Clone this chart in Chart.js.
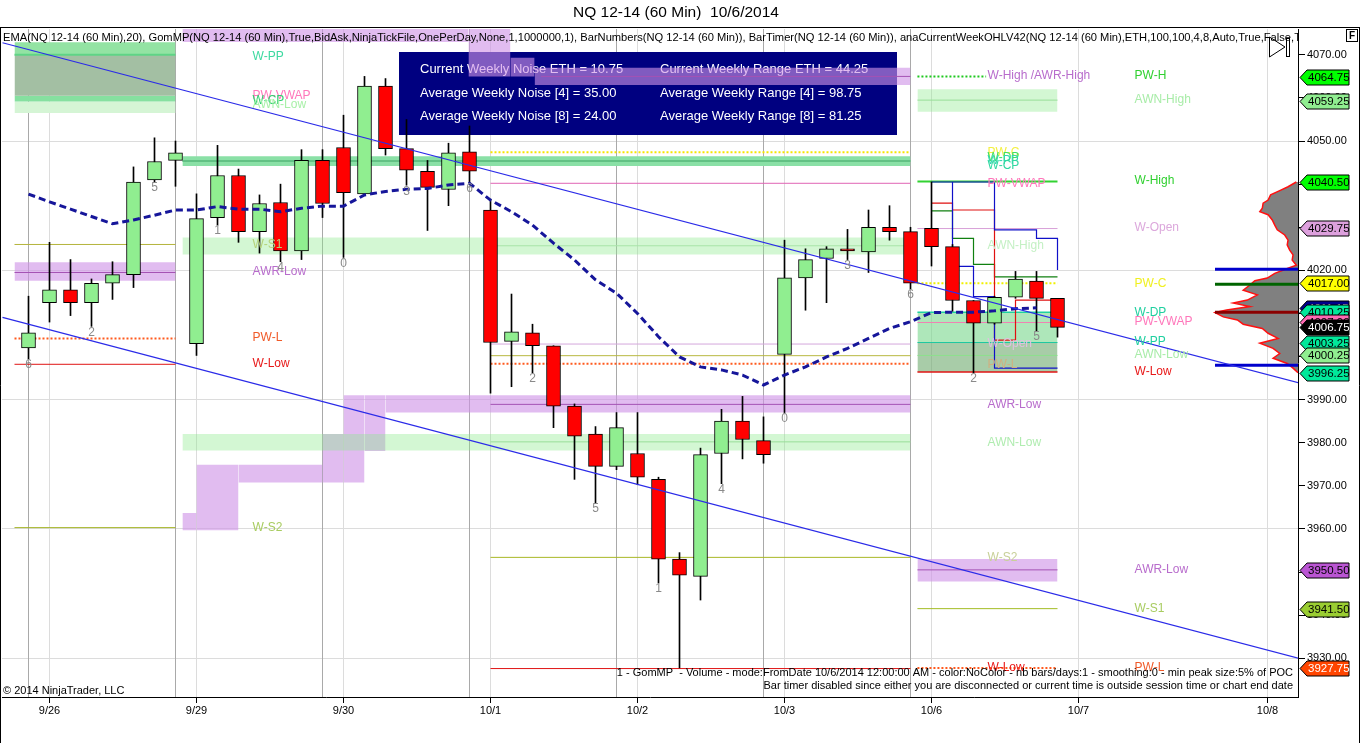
<!DOCTYPE html>
<html>
<head>
<meta charset="utf-8">
<title>NQ 12-14 (60 Min) 10/6/2014</title>
<script src="https://cdn.jsdelivr.net/npm/chart.js@4.4.1/dist/chart.umd.min.js"></script>
<style>
html,body{margin:0;padding:0;background:#fff;overflow:hidden;}
#box{position:relative;width:1360px;height:743px;}
</style>
</head>
<body>
<div id="box"><canvas id="c"></canvas></div>
<script>
const FONT = '"Liberation Sans", Arial, Helvetica, sans-serif';

// ---------------- data ----------------
const barIdx = [0,1,2,3,4,5,6,7,8,9,10,11,12,13,14,15,16,17,18,19,20,21,22,23,24,25,26,27,28,29,30,31,32,33,34,35,36,37,38,39,40,41,42,43,44,45,46,47,48,49];
const opens  = [4002,4012.5,4015.5,4012.5,4017,4019,4041,4045.5,4003,4032.25,4042,4029,4035.75,4024.5,4045.5,4048.5,4037.75,4062.75,4048.25,4043,4038.75,4047.5,4034,4003.5,4005.5,4002.5,3988.5,3982,3974.5,3977.5,3971.5,3953,3949,3977.5,3985,3980.5,4000.5,4018.25,4022.75,4025,4024.25,4030,4029,4029.75,4025.5,4013,4007.75,4013.75,4017.5,4013.5];
const highs  = [4014,4026.5,4022.5,4018,4022,4044,4050.75,4050,4037.75,4049,4043.5,4037.5,4040,4048,4048,4056,4065,4064.5,4055,4045.5,4049.5,4053.5,4036.5,4014.5,4007.5,4002.5,3989,3983.75,3987,3987,3972,3954.5,3978.75,3987.75,3990.75,3986,4027,4025,4025.5,4029.5,4034,4035,4030,4040.5,4026,4013,4014,4019.75,4019.75,4013.5];
const lows   = [3999.5,4008,4009.5,4007,4013.25,4016,4040.5,4039.5,4000.25,4030.5,4026.5,4024,4022,4022.5,4032.25,4023,4037.75,4046.75,4039.75,4029.25,4035,4040.25,3991.5,3993,3996.25,3983.5,3971.5,3966,3973.75,3970.25,3947.5,3927.75,3943.5,3970.5,3976.25,3975.25,3987,4010.75,4012.5,4022.5,4019.5,4027,4015.75,4021,4010.5,3996.25,4007.5,4013.5,4006,4004.5];
const closes = [4005.5,4015.5,4012.5,4017,4019,4040.5,4045.25,4047.25,4032,4042,4029,4035.5,4024.5,4045.5,4035.5,4038,4062.75,4048.25,4043.25,4039.25,4047.25,4043,4003.25,4005.75,4002.5,3988.5,3981.5,3974.5,3983.5,3972,3953,3949.25,3977.25,3985,3980.75,3977.25,4018.25,4022.5,4025,4024.5,4030,4029,4017,4025.5,4013,4007.75,4013.75,4018,4013.5,4006.75];
const emaValues = [4037.7,4035.9,4034.2,4032.5,4030.8,4031.7,4032.8,4034.0,4034.0,4034.8,4034.2,4034.2,4033.6,4034.4,4034.9,4034.9,4037.5,4038.3,4038.8,4039.0,4039.8,4040.2,4036.3,4033.6,4030.5,4026.3,4022.4,4017.8,4014.7,4010.0,4004.6,3999.9,3997.6,3996.9,3995.7,3993.4,3995.7,3997.6,3999.9,4001.9,4004.2,4006.5,4008.1,4010.2,4010.3,4010.3,4010.6,4011.1,4011.3];

const dateTickIdx  = [1,8,15,22,29,36,43,50,59];
const dateTickText = ['9/26','9/29','9/30','10/1','10/2','10/3','10/6','10/7','10/8'];
const sessionIdx   = [0,7,14,21,28,35,42];

const barNumIdx  = [0,3,6,9,12,15,18,21,24,27,30,33,36,39,42,45,48];
const barNumText = ['6','2','5','1','4','0','3','6','2','5','1','4','0','3','6','2','5'];

// trend lines: [bar, price] start / end
const trendFrom = [[-1.238, 4072.8], [-1.238, 4009.1]];
const trendTo   = [[60.476, 3993.9], [60.476, 3930.0]];

// horizontal level segments: [fromBar, toBar, price]
const levelLines = [
 [-0.667,7,4070.0],[-0.667,7,4026.0],[-0.667,7,4019.5],[-0.667,7,4004.2],[-0.667,7,3998.2],[-0.667,7,3960.3],
 [7.33,42,4045.4],[22,42,4047.4],[22,42,4040.2],[22,42,4025.7],[22,42,4002.9],[22,42,4000.2],[22,42,3998.3],
 [24.4,42,4065.0],[22,42,3988.9],[22,42,3980.2],[22,42,3953.4],[22,42,3927.6],
 [42.33,45.6,4065.0],[42.33,49,4059.5],[42.33,49,4040.6],[42.33,49,4029.7],[42.33,49,4017.0],[42.33,49,4010.25],
 [42.33,49,4007.9],[42.33,49,4003.25],[42.33,49,4000.25],[42.33,49,3996.4],[42.33,49,3950.5],[42.33,49,3941.5],[42.33,49,3927.75]
];
const levelLineStyles = [
 ['#5fd486',2,false],['#b4b43c',1,false],['#a452b4',1,false],['#ff5a1e',2,true],['#e01414',1,false],['#a4b424',1,false],
 ['#62c184',2,false],['#f5e600',2,true],['#e064b4',1,false],['#a8e4a8',1,false],['#d4a8dc',1,false],['#b8b840',1,false],['#ff5a1e',2,true],
 ['#a452b4',1,false],['#a452b4',1,false],['#98de98',1,false],['#a8b824',1,false],['#e01414',1,false],
 ['#1ec81e',2,true],['#98de98',1,false],['#32d232',2,false],['#d8a0d8',1,false],['#f0f000',2,true],['#1ed2a0',1.5,false],
 ['#f082b4',1,false],['#1ec8a0',1,false],['#8ee08e',1,false],['#e01414',1.5,false],['#a452b4',1,false],['#a4bc24',1,false],['#ff5a1e',2,true]
];

// shaded zones: [fromBar, toBar, low, high]
const levelBands = [
 [-0.667,7,4070.0,4072.9],[-0.667,7,4060.5,4070.0],[-0.667,7,4059.2,4060.5],[-0.667,7,4056.5,4059.2],[-0.667,7,4017.6,4021.9],
 [7.33,42,4044.2,4046.5],[7.33,42,4023.7,4027.6],[7.33,42,3978.2,3982.0],
 [7.33,8,3959.7,3963.7],[8,10,3959.7,3974.9],[10,14,3970.8,3974.9],[14,15,3970.8,3982.0],[15,16,3970.8,3991.0],[16,17,3978.1,3991.0],[17,42,3987.0,3991.0],
 [7.33,20.95,4073.0,4077],[20.95,22.95,4065.0,4077],[22.95,24.1,4065.0,4069.3],[24.1,42,4063.0,4067.0],
 [42.33,49,4056.8,4062.0],[42.33,49,4003.3,4010.3],[42.33,49,3996.4,4003.3],[42.33,49,3947.8,3953.0]
];
const PURPLE = 'rgba(207,147,230,0.62)', PALEGREEN = 'rgba(140,235,140,0.38)';
const levelBandColors = ['#93e3a3','#a3bfa3','#86e0a0','#d5f5d5',PURPLE,'#8ae0a6',PALEGREEN,PALEGREEN,
 PURPLE,PURPLE,PURPLE,PURPLE,PURPLE,PURPLE,PURPLE,PURPLE,PURPLE,PURPLE,PURPLE,
 PALEGREEN,'rgba(120,215,140,0.6)','rgba(110,170,110,0.6)',PURPLE];

// current-week tracking step lines: [bar, price]
const stepBlueA = [[43,4040.5],[46,4040.5],[46,4029.4],[48,4029.4],[48,4027.4],[49,4027.4],[49,4020.1]];
const stepBlueB = [[44,4040.5],[44,4020.9],[45,4020.9],[45,4013.9],[46,4013.9],[46,3997.3],[49,3997.3]];
const stepRed   = [[43,4035.6],[44,4035.6],[44,4034.0],[46,4034.0],[46,4003.8],[47,4003.8],[47,4013.1],[49,4013.1]];
const stepGreen = [[43,4033.8],[44,4033.8],[44,4027.4],[45,4027.4],[45,4021.4],[46,4021.4],[46,4018.5],[49,4018.5]];

// volume profile (relative volume, POC = 100)
const profilePrices  = [4040.5,4039.4,4038.5,4037.5,4036.3,4035.6,4034.4,4033.6,4032.9,4031.7,4030.5,4029.4,4028.2,4027.0,4025.9,4024.7,4023.6,4022.4,4021.2,4020.5,4019.3,4018.2,4017.6,4016.6,4015.4,4014.3,4013.1,4012.4,4011.6,4010.8,4010.2,4009.2,4008.5,4007.5,4006.5,4005.4,4004.2,4003.1,4001.9,4000.7,3999.6,3998.4,3997.3,3996.25];
const profileVolumes = [2,12,22,33,36,42,43,46,36,31,28,25,16,12,13,10,6,7,2,12,28,37,52,58,66,49,61,78,58,86,100,90,73,66,43,36,24,46,30,22,30,13,6,0];
const vaPrices = [4020.25,4016.75,4010.25,3998.0];
const vaColors = ['#0000cc','#006400','#8b0000','#0000cc'];
const vaFrom = 56.5, vaTo = 60.5;

// right-axis price markers
const flagValues = [4064.75,4059.25,4040.50,4029.75,4017.00,4011.15,4010.25,4007.90,4006.75,4003.25,4000.25,3996.25,3950.50,3941.50,3927.75];
const flagColors = ['#00ff00','#90ee90','#00ff00','#dda0dd','#ffff00','#00008b','#00e89a','#ff69b4','#000000','#00e89a','#90ee90','#00e89a','#ba55d3','#9acd32','#ff4500'];
const flagText   = ['#000','#000','#000','#000','#000','#fff','#000','#000','#fff','#000','#000','#000','#000','#000','#fff'];

// level labels: [text, bar, price, color]
const levelLabels = [
 ['W-PP',10.67,4069.5,'#3dd9a0'],['PW-VWAP',10.67,4060.6,'#ff77bb'],['W-CP',10.67,4059.4,'#30d070'],['AWN-Low',10.67,4058.4,'#a8f0a8'],
 ['W-S1',10.67,4025.9,'#b5d27a'],['AWR-Low',10.67,4019.6,'#b86ccc'],['PW-L',10.67,4004.3,'#f05a28'],['W-Low',10.67,3998.3,'#e81818'],['W-S2',10.67,3960.4,'#a8cc60'],
 ['W-High /AWR-High',45.67,4065.1,'#b86ccc'],['PW-C',45.67,4047.4,'#f4f040'],['W-DP',45.67,4046.2,'#40e060'],['W-PP',45.67,4045.5,'#30d8b0'],['W-CP',45.67,4044.3,'#30d8a0'],
 ['PW-VWAP',45.67,4040.0,'#ff77bb'],['AWN-High',45.67,4025.7,'#c4f0c4'],['W-Open',45.67,4002.9,'#e0c0e0'],['PW-L',45.67,3998.2,'#d0b080'],
 ['AWR-Low',45.67,3988.9,'#b86ccc'],['AWN-Low',45.67,3980.1,'#b0ecb0'],['W-S2',45.67,3953.4,'#c8d098'],['W-Low',45.67,3927.7,'#e81818'],
 ['PW-H',52.67,4065.1,'#30d030'],['AWN-High',52.67,4059.5,'#a8eca8'],['W-High',52.67,4040.7,'#30d030'],['W-Open',52.67,4029.8,'#dca8dc'],
 ['PW-C',52.67,4016.9,'#f0f020'],['W-DP',52.67,4010.2,'#20d0a0'],['PW-VWAP',52.67,4008.1,'#ff77bb'],['W-PP',52.67,4003.5,'#20d0a0'],
 ['AWN-Low',52.67,4000.5,'#a8eca8'],['W-Low',52.67,3996.5,'#e81818'],['AWR-Low',52.67,3950.5,'#b86ccc'],['W-S1',52.67,3941.5,'#a8cc60'],['PW-L',52.67,3927.8,'#f05a28']
];

const infoLeft  = ['Current Weekly Noise ETH = 10.75','Average Weekly Noise [4] = 35.00','Average Weekly Noise [8] = 24.00'];
const infoRight = ['Current Weekly Range ETH = 44.25','Average Weekly Range [4] = 98.75','Average Weekly Range [8] = 81.25'];
const titleText = 'NQ 12-14 (60 Min)  10/6/2014';
const headerText = 'EMA(NQ 12-14 (60 Min),20), GomMP(NQ 12-14 (60 Min),True,BidAsk,NinjaTickFile,OnePerDay,None,1,1000000,1), BarNumbers(NQ 12-14 (60 Min)), BarTimer(NQ 12-14 (60 Min)), anaCurrentWeekOHLV42(NQ 12-14 (60 Min),ETH,100,100,4,8,Auto,True,False,True)';
const footer1 = '1 - GomMP  - Volume - mode:FromDate 10/6/2014 12:00:00 AM - color:NoColor - nb bars/days:1 - smoothing:0 - min peak size:5% of POC';
const footer2 = 'Bar timer disabled since either you are disconnected or current time is outside session time or chart end date';
const copyright = '\u00A9 2014 NinjaTrader, LLC';

// ---------------- datasets ----------------
const pts = arr => arr.map(p => ({x: p[0], y: p[1]}));
const lineBase = {type:'line', pointRadius:0, pointHoverRadius:0, tension:0, fill:false, xAxisID:'x', yAxisID:'y'};
const datasets = [];

trendFrom.forEach((p, k) => datasets.push({...lineBase, data: pts([p, trendTo[k]]), borderColor:'#2b2be8', borderWidth:1.2, order:-3}));
datasets.push({...lineBase, data: emaValues.map((v, k) => ({x: barIdx[k], y: v})), borderColor:'#16169a', borderWidth:3, borderDash:[7,4], order:-2});
datasets.push({type:'bar', xAxisID:'x', yAxisID:'y', data: barIdx.map((b, k) => ({x: b, y: [opens[k], closes[k]]})),
  backgroundColor: barIdx.map((b, k) => closes[k] >= opens[k] ? '#90ee90' : '#ff0000'),
  borderColor:'#000', borderWidth:1, borderSkipped:false, barThickness:14, maxBarThickness:14, grouped:false, order:0});
datasets.push({type:'bar', xAxisID:'x', yAxisID:'y', data: barIdx.map((b, k) => ({x: b, y: [lows[k], highs[k]]})),
  backgroundColor:'#000', borderWidth:0, barThickness:1, maxBarThickness:1, grouped:false, order:1});

[[stepBlueA,'#1010c8'],[stepBlueB,'#1010c8'],[stepRed,'#e01010'],[stepGreen,'#108010']].forEach(s =>
  datasets.push({...lineBase, data: pts(s[0]), borderColor: s[1], borderWidth:1.2, order:2}));

vaPrices.forEach((p, k) => datasets.push({...lineBase, data: pts([[vaFrom, p], [vaTo, p]]), borderColor: vaColors[k], borderWidth:3, order:2}));

datasets.push({type:'line', indexAxis:'y', xAxisID:'xv', yAxisID:'y',
  data: profilePrices.map((p, k) => ({x: profileVolumes[k], y: p})),
  borderColor:'#ff1010', borderWidth:1.5, backgroundColor:'#808080', fill:'origin', pointRadius:0, tension:0, order:3});

levelLines.forEach((r, k) => { const s = levelLineStyles[k];
  datasets.push({...lineBase, data: pts([[r[0], r[2]], [r[1], r[2]]]), borderColor: s[0], borderWidth: s[1], borderDash: s[2] ? [2,2] : [], order:4}); });
levelBands.forEach((r, k) => datasets.push({...lineBase, data: pts([[r[0], r[3]], [r[1], r[3]]]),
  borderWidth:0, borderColor:'rgba(0,0,0,0)', backgroundColor: levelBandColors[k], fill:{value: r[2]}, order:5}));

// ---------------- drawing helpers ----------------
const overlay = {
  id: 'overlay',
  beforeDraw(c) { const ctx = c.ctx; ctx.save(); ctx.fillStyle = '#fff'; ctx.fillRect(0, 0, c.width, c.height); ctx.restore(); },
  beforeDatasetsDraw(c) {
    const {ctx, chartArea: a, scales: {x}} = c;
    ctx.save();
    ctx.strokeStyle = '#a9a9a9'; ctx.lineWidth = 1;
    sessionIdx.forEach(i => { const px = Math.floor(x.getPixelForValue(i)) + 0.5;
      ctx.beginPath(); ctx.moveTo(px, a.top); ctx.lineTo(px, a.bottom); ctx.stroke(); });
    ctx.fillStyle = '#000080'; ctx.fillRect(399, 52, 498, 83);
    ctx.fillStyle = '#fff'; ctx.font = '13px ' + FONT; ctx.textBaseline = 'middle'; ctx.textAlign = 'left';
    infoLeft.forEach((t, k) => ctx.fillText(t, 420, 69.5 + k * 23.5));
    infoRight.forEach((t, k) => ctx.fillText(t, 660, 69.5 + k * 23.5));
    ctx.restore();
  },
  afterDatasetsDraw(c) {
    const {ctx, chartArea: a, scales: {x, y}} = c;
    ctx.save();
    ctx.beginPath(); ctx.rect(a.left, a.top, a.right - a.left, a.bottom - a.top); ctx.clip();
    ctx.font = '12px ' + FONT; ctx.textBaseline = 'middle'; ctx.textAlign = 'left';
    levelLabels.forEach(l => { ctx.fillStyle = l[3]; ctx.fillText(l[0], x.getPixelForValue(l[1]), y.getPixelForValue(l[2])); });
    ctx.fillStyle = '#8a8a8a'; ctx.textAlign = 'center';
    barNumIdx.forEach((b, k) => ctx.fillText(barNumText[k], x.getPixelForValue(b), y.getPixelForValue(lows[b]) + 6));
    ctx.fillStyle = '#000'; ctx.font = '11.15px ' + FONT; ctx.textAlign = 'left';
    ctx.fillText(headerText, 3, 38);
    ctx.font = '11px ' + FONT;
    ctx.textAlign = 'right';
    ctx.fillText(footer1, 1293, 673);
    ctx.fillText(footer2, 1293, 686);
    ctx.textAlign = 'left';
    ctx.fillText(copyright, 3, 691);
    // bar timer icon
    ctx.strokeStyle = '#000'; ctx.lineWidth = 1;
    ctx.beginPath(); ctx.moveTo(1269.5, 37); ctx.lineTo(1285, 47); ctx.lineTo(1269.5, 57); ctx.closePath(); ctx.stroke();
    ctx.strokeRect(1286.5, 38.5, 3, 18);
    ctx.restore();
  },
  afterDraw(c) {
    const {ctx, scales: {y}} = c;
    ctx.save();
    ctx.fillStyle = '#000'; ctx.font = '15.5px ' + FONT; ctx.textAlign = 'center'; ctx.textBaseline = 'middle';
    ctx.fillText(titleText, 676, 13);
    ctx.strokeStyle = '#000'; ctx.lineWidth = 1;
    ctx.beginPath(); ctx.moveTo(0, 27.5); ctx.lineTo(1360, 27.5); ctx.stroke();
    ctx.beginPath(); ctx.moveTo(0.5, 27.5); ctx.lineTo(0.5, 743); ctx.stroke();
    ctx.beginPath(); ctx.moveTo(1359.5, 27.5); ctx.lineTo(1359.5, 743); ctx.stroke();
    // F box
    ctx.fillStyle = '#fff'; ctx.fillRect(1346.5, 29.5, 11, 12); ctx.strokeRect(1346.5, 29.5, 11, 12);
    ctx.fillStyle = '#000'; ctx.font = 'bold 10px ' + FONT; ctx.textAlign = 'center'; ctx.fillText('F', 1352, 36);
    // price markers
    ctx.font = '11.5px ' + FONT; ctx.textAlign = 'left';
    flagValues.forEach((v, k) => {
      const py = Math.round(y.getPixelForValue(v)) + 0.5;
      ctx.beginPath();
      ctx.moveTo(1300, py); ctx.lineTo(1307, py - 7.5); ctx.lineTo(1349, py - 7.5); ctx.lineTo(1349, py + 7.5); ctx.lineTo(1307, py + 7.5); ctx.closePath();
      ctx.fillStyle = flagColors[k]; ctx.fill(); ctx.strokeStyle = '#000'; ctx.stroke();
      ctx.fillStyle = flagText[k]; ctx.fillText(v.toFixed(2), 1308, py + 0.5);
    });
    ctx.restore();
  }
};

Chart.defaults.font.family = FONT;
new Chart(document.getElementById('c'), {
  type: 'line',
  data: { datasets },
  options: {
    responsive: true, maintainAspectRatio: false, animation: false, events: [],
    layout: { padding: { top: 29, left: 2, right: 0, bottom: 0 } },
    plugins: { legend: { display: false }, tooltip: { enabled: false }, title: { display: false } },
    scales: {
      x: { type: 'linear', min: -1.2619, max: 60.4522, offset: false,
        afterBuildTicks: s => { s.ticks = dateTickIdx.map(v => ({ value: v })); },
        afterFit: s => { s.height = 46; },
        ticks: { autoSkip: false, maxRotation: 0, color: '#000', font: { size: 11 }, padding: 1,
          callback: (v, i) => dateTickText[i] },
        grid: { color: '#dcdcdc', tickColor: '#000', tickLength: 6, offset: false },
        border: { color: '#000', width: 1 } },
      y: { type: 'linear', position: 'right', min: 3921, max: 4076,
        afterFit: s => { s.width = 62; },
        ticks: { stepSize: 10, includeBounds: false, color: '#000', font: { size: 11 }, padding: 2,
          callback: v => Number(v).toFixed(2) },
        grid: { color: c => (c.tick && Math.round(c.tick.value) % 30 === 0) ? '#dcdcdc' : 'rgba(0,0,0,0)', tickColor: '#000', tickLength: 7 },
        border: { color: '#000', width: 1 } },
      xv: { type: 'linear', display: false, reverse: true, min: 0, max: 1561 }
    }
  },
  plugins: [overlay]
});
</script>
</body>
</html>
